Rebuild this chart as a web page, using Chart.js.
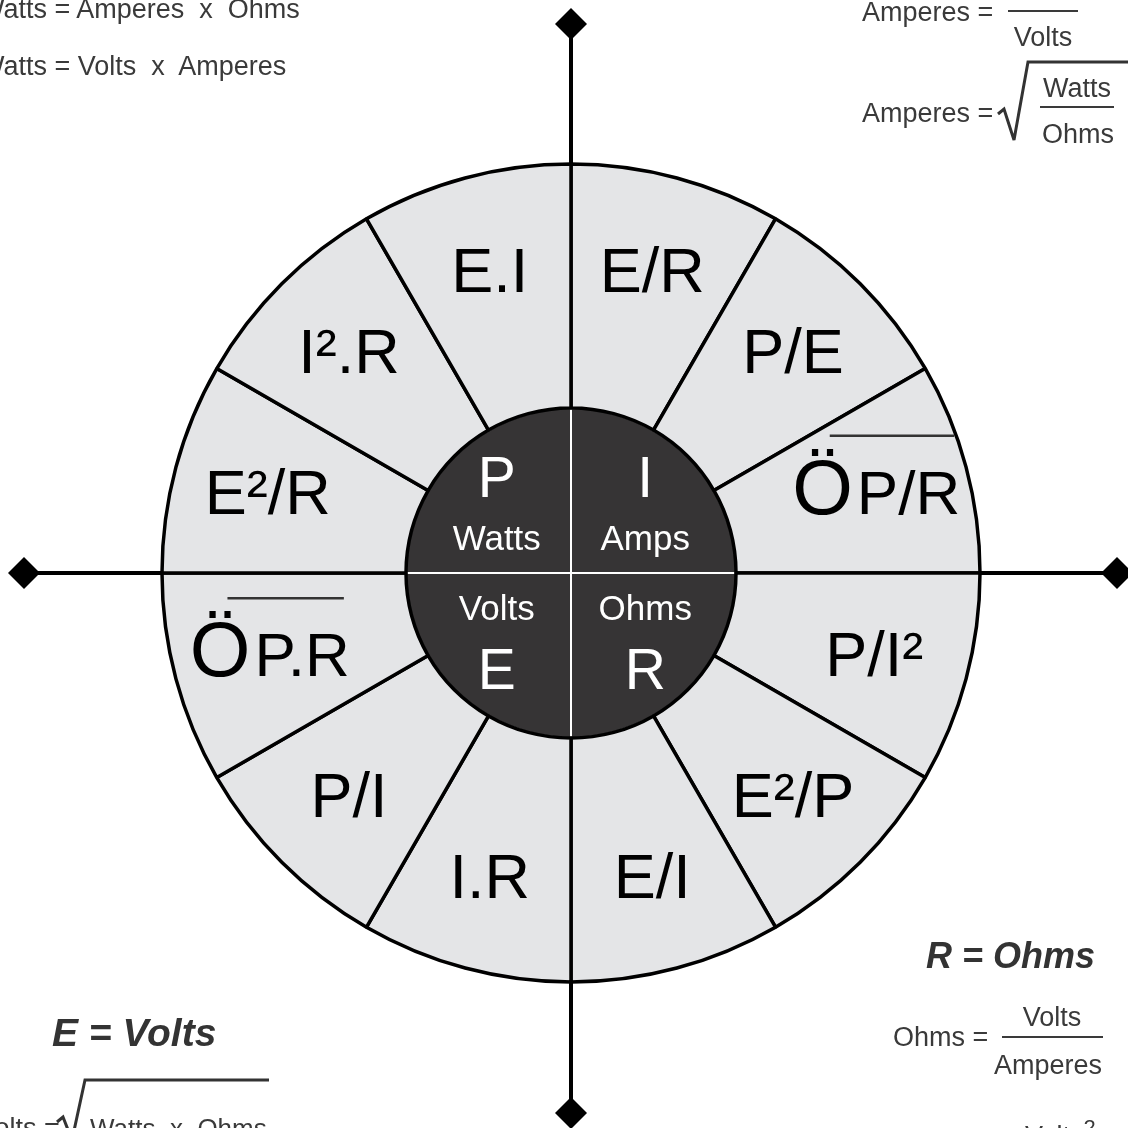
<!DOCTYPE html>
<html>
<head>
<meta charset="utf-8">
<title>Ohm's law wheel</title>
<script src="https://cdn.jsdelivr.net/npm/chart.js@4.4.1/dist/chart.umd.min.js"></script>
<style>
	body { margin: 0; background: #fff; }
	#wrap { position: relative; width: 1128px; height: 1128px; overflow: hidden; }
	#wheel { position: absolute; left: 0; top: 0; }
	#marks { position: absolute; left: 0; top: 0; pointer-events: none; }
	.t { position: absolute; font-family: "Liberation Sans", Arial, sans-serif; color: #3a3a3a; font-size: 27px; line-height: 27px; white-space: pre; transform: translateY(-50%); }
	.c { transform: translate(-50%, -50%); }
	.h { font-weight: bold; font-style: italic; font-size: 37px; line-height: 37px; color: #333; }
	.bar { position: absolute; height: 2px; background: #3a3a3a; }
	sup { font-size: 22px; }
</style>
</head>
<body>
<div id="wrap">
	<canvas id="wheel" width="1128" height="1128"></canvas>

	<svg id="marks" width="1128" height="1128">
		<polyline points="998,114 1004,109 1014,140 1028,62 1128,62" fill="none" stroke="#333" stroke-width="3" />
		<polyline points="57,1122 63,1117 72,1140 85,1080 269,1080" fill="none" stroke="#333" stroke-width="3" />
	</svg>

	<div class="t" style="left:-21px; top:9px;">Watts = Amperes  x  Ohms</div>
	<div class="t" style="left:-21px; top:66px;">Watts = Volts  x  Amperes</div>

	<div class="t" style="left:862px; top:12px;">Amperes =</div>
	<div class="bar" style="left:1008px; top:10px; width:70px;"></div>
	<div class="t c" style="left:1043px; top:37px;">Volts</div>
	<div class="t" style="left:862px; top:113px;">Amperes =</div>
	<div class="t c" style="left:1077px; top:88px;">Watts</div>
	<div class="bar" style="left:1040px; top:106px; width:74px;"></div>
	<div class="t c" style="left:1078px; top:134px;">Ohms</div>

	<div class="t h" style="left:52px; top:1032px; font-size:39px;">E = Volts</div>
	<div class="t" style="left:-22px; top:1128px;">Volts =</div>
	<div class="t" style="left:90px; top:1128px; font-size:26px;">Watts  x  Ohms</div>

	<div class="t h" style="left:926px; top:955px; font-size:36px;">R = Ohms</div>
	<div class="t" style="left:893px; top:1037px;">Ohms =</div>
	<div class="bar" style="left:1002px; top:1036px; width:101px;"></div>
	<div class="t c" style="left:1052px; top:1017px;">Volts</div>
	<div class="t c" style="left:1048px; top:1065px;">Amperes</div>
	<div class="t" style="left:1025px; top:1132px;">Volts<sup>2</sup></div>
</div>

<script>
// outer ring, clockwise from 12 o'clock
const outerLabels = ["E/R", "P/E", "ÖP/R", "P/I²", "E²/P", "E/I", "I.R", "P/I", "ÖP.R", "E²/R", "I².R", "E.I"];
const outerValues = [1, 1, 1, 1, 1, 1, 1, 1, 1, 1, 1, 1];

// inner quadrants, clockwise from 12 o'clock
const innerLetters = ["I", "R", "E", "P"];
const innerWords = ["Amps", "Ohms", "Volts", "Watts"];
const innerValues = [1, 1, 1, 1];

const FONT = "\"Liberation Sans\", Arial, sans-serif";
const reach = { up: 549, down: 540, left: 547, right: 546 };

function diamond(ctx, x, y, s) {
	ctx.beginPath();
	ctx.moveTo(x, y - s);
	ctx.lineTo(x + s, y);
	ctx.lineTo(x, y + s);
	ctx.lineTo(x - s, y);
	ctx.closePath();
	ctx.fill();
}

const axesPlugin = {
	id: "axes",
	beforeDatasetsDraw(chart) {
		const arc = chart.getDatasetMeta(0).data[0];
		const cx = arc.x;
		const cy = arc.y;
		const ctx = chart.ctx;
		ctx.save();
		ctx.strokeStyle = "#000";
		ctx.fillStyle = "#000";
		ctx.lineWidth = 4;
		ctx.beginPath();
		ctx.moveTo(cx, cy - reach.up);
		ctx.lineTo(cx, cy + reach.down);
		ctx.moveTo(cx - reach.left, cy);
		ctx.lineTo(cx + reach.right, cy);
		ctx.stroke();
		diamond(ctx, cx, cy - reach.up, 16);
		diamond(ctx, cx, cy + reach.down, 16);
		diamond(ctx, cx - reach.left, cy, 16);
		diamond(ctx, cx + reach.right, cy, 16);
		ctx.restore();
	},
};

function drawRootLabel(ctx, text, x, y) {
	// "Ö" is a big glyph, the rest sits under an overline
	const rest = text.slice(1);
	ctx.font = "78px " + FONT;
	const wBig = ctx.measureText("Ö").width;
	ctx.font = "62px " + FONT;
	const wRest = ctx.measureText(rest).width;
	const start = x - (wBig + wRest) / 2;
	const base = y + 22;
	ctx.textAlign = "left";
	ctx.textBaseline = "alphabetic";
	ctx.font = "78px " + FONT;
	ctx.fillText("Ö", start, base);
	ctx.font = "62px " + FONT;
	ctx.fillText(rest, start + wBig + 4, base);
	ctx.strokeStyle = "#333";
	ctx.lineWidth = 2.5;
	ctx.beginPath();
	ctx.moveTo(start + wBig * 0.62, base - 78);
	ctx.lineTo(start + wBig + 4 + wRest - 6, base - 78);
	ctx.stroke();
}

const labelPlugin = {
	id: "labels",
	afterDatasetsDraw(chart) {
		const ctx = chart.ctx;
		ctx.save();

		chart.getDatasetMeta(0).data.forEach((arc, i) => {
			const mid = (arc.startAngle + arc.endAngle) / 2;
			const r = arc.innerRadius + 0.61 * (arc.outerRadius - arc.innerRadius);
			const x = arc.x + Math.cos(mid) * r;
			const y = arc.y + Math.sin(mid) * r;
			const text = outerLabels[i];
			ctx.fillStyle = "#000";
			if (text.startsWith("Ö")) {
				drawRootLabel(ctx, text, x, y);
			} else {
				ctx.font = "63px " + FONT;
				ctx.textAlign = "center";
				ctx.textBaseline = "alphabetic";
				ctx.fillText(text, x, y + 22);
			}
		});

		chart.getDatasetMeta(1).data.forEach((arc, i) => {
			const mid = (arc.startAngle + arc.endAngle) / 2;
			const R = arc.outerRadius;
			const sx = Math.sign(Math.cos(mid));
			const sy = Math.sign(Math.sin(mid));
			const x = arc.x + sx * 0.45 * R;
			ctx.fillStyle = "#fff";
			ctx.textAlign = "center";
			ctx.textBaseline = "alphabetic";
			ctx.font = "57px " + FONT;
			ctx.fillText(innerLetters[i], x, arc.y + sy * 0.58 * R + 20);
			ctx.font = "35px " + FONT;
			ctx.fillText(innerWords[i], x, arc.y + sy * 0.21 * R + 12);
		});

		ctx.restore();
	},
};

new Chart(document.getElementById("wheel"), {
	type: "doughnut",
	data: {
		labels: outerLabels,
		datasets: [
			{
				data: outerValues,
				backgroundColor: "#e4e5e7",
				borderColor: "#000",
				borderWidth: 3.5,
				weight: 244,
				clip: false,
			},
			{
				data: innerValues,
				backgroundColor: "#363435",
				borderColor: "#fff",
				borderWidth: 2,
				weight: 165,
				clip: false,
			},
		],
	},
	options: {
		responsive: false,
		animation: false,
		events: [],
		cutout: 0,
		radius: 409,
		layout: {
			padding: { left: 162, right: 148, top: 164, bottom: 146 },
		},
		plugins: {
			legend: { display: false },
			tooltip: { enabled: false },
		},
	},
	plugins: [axesPlugin, labelPlugin],
});
</script>
</body>
</html>
